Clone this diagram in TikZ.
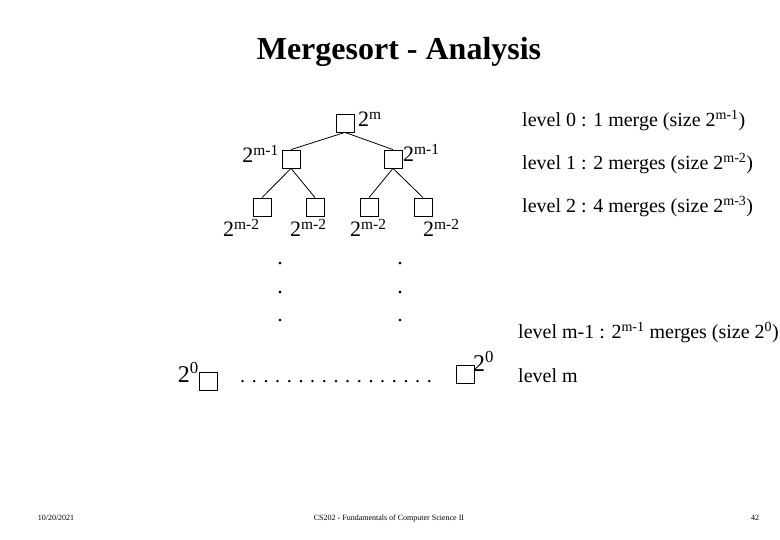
\documentclass[tikz,border=0pt]{standalone}
\usepackage{fontspec}
\setmainfont{Liberation Serif}
\tikzset{
  mbox/.style={draw,minimum size=18pt,inner sep=0pt,line width=0.8pt},
  cnt/.style={inner sep=0pt,font=\fontsize{22}{26}\selectfont},
  lvl/.style={inner sep=0pt,anchor=base west,font=\fontsize{20}{24}\selectfont},
  foot/.style={inner sep=0pt,anchor=base,font=\fontsize{8}{10}\selectfont}
}
\begin{document}
\begin{tikzpicture}[x=1pt,y=-1pt]
 \useasboundingbox (0,0) rectangle (780,540);
 \fill[white](0,0) rectangle (780,540);
 \node[inner sep=0pt,anchor=base,font=\fontsize{32}{36}\selectfont\bfseries] (title) at (399,60) {Mergesort - Analysis};
 % tree
 \node[mbox] (r) at (345,123) {};
 \node[mbox] (l1a) at (291,159) {};
 \node[mbox] (l1b) at (393,159) {};
 \node[mbox] (l2a) at (262,207) {};
 \node[mbox] (l2b) at (315,207) {};
 \node[mbox] (l2c) at (369,207) {};
 \node[mbox] (l2d) at (423,207) {};
 \draw[line width=0.8pt](r.south)--(l1a.north);
 \draw[line width=0.8pt](r.south)--(l1b.north);
 \draw[line width=0.8pt](l1a.south)--(l2a.north);
 \draw[line width=0.8pt](l1a.south)--(l2b.north);
 \draw[line width=0.8pt](l1b.south)--(l2c.north);
 \draw[line width=0.8pt](l1b.south)--(l2d.north);
 \node[cnt,anchor=base west] (cr) at (358,127) {2\textsuperscript{m}};
 \node[cnt,anchor=base east] (cl1a) at (279,163) {2\textsuperscript{m-1}};
 \node[cnt,anchor=base west] (cl1b) at (403,162) {2\textsuperscript{m-1}};
 \node[cnt,anchor=base west] (cl2a) at (223,237) {2\textsuperscript{m-2}};
 \node[cnt,anchor=base west] (cl2b) at (290,237) {2\textsuperscript{m-2}};
 \node[cnt,anchor=base west] (cl2c) at (350,237) {2\textsuperscript{m-2}};
 \node[cnt,anchor=base west] (cl2d) at (423,237) {2\textsuperscript{m-2}};
 % dots
 \foreach \y [count=\i] in {265,294,322}{
   \node[cnt,anchor=base] (dl\i) at (280,\y) {.};
   \node[cnt,anchor=base] (dr\i) at (400,\y) {.};
 }
 % leaves
 \node[mbox] (fa) at (208,381) {};
 \node[mbox] (fb) at (465,374) {};
 \node[cnt,anchor=base east,font=\fontsize{24}{28}\selectfont] (cfa) at (199,383) {2\textsuperscript{0}};
 \node[cnt,anchor=base west,font=\fontsize{24}{28}\selectfont] (cfb) at (473,372) {2\textsuperscript{0}};
 \node[cnt,anchor=base west,font=\fontsize{20}{24}\selectfont] (row) at (240,383) {. . . . . . . . . . . . . . . . .};
 % levels
 \node[lvl] (lv0) at (522,127) {level 0 : 1 merge (size 2\textsuperscript{m-1})};
 \node[lvl] (lv1) at (522,170) {level 1 : 2 merges (size 2\textsuperscript{m-2})};
 \node[lvl] (lv2) at (522,213) {level 2 : 4 merges (size 2\textsuperscript{m-3})};
 \node[lvl] (lvm1) at (518,339) {level m-1 : 2\textsuperscript{m-1} merges (size 2\textsuperscript{0})};
 \node[lvl] (lvm) at (518,382) {level m};
 % footer
 \node[foot] (date) at (56,520) {10/20/2021};
 \node[foot] (course) at (389,520) {CS202 - Fundamentals of Computer Science II};
 \node[foot] (page) at (755,520) {42};
\end{tikzpicture}
\end{document}
